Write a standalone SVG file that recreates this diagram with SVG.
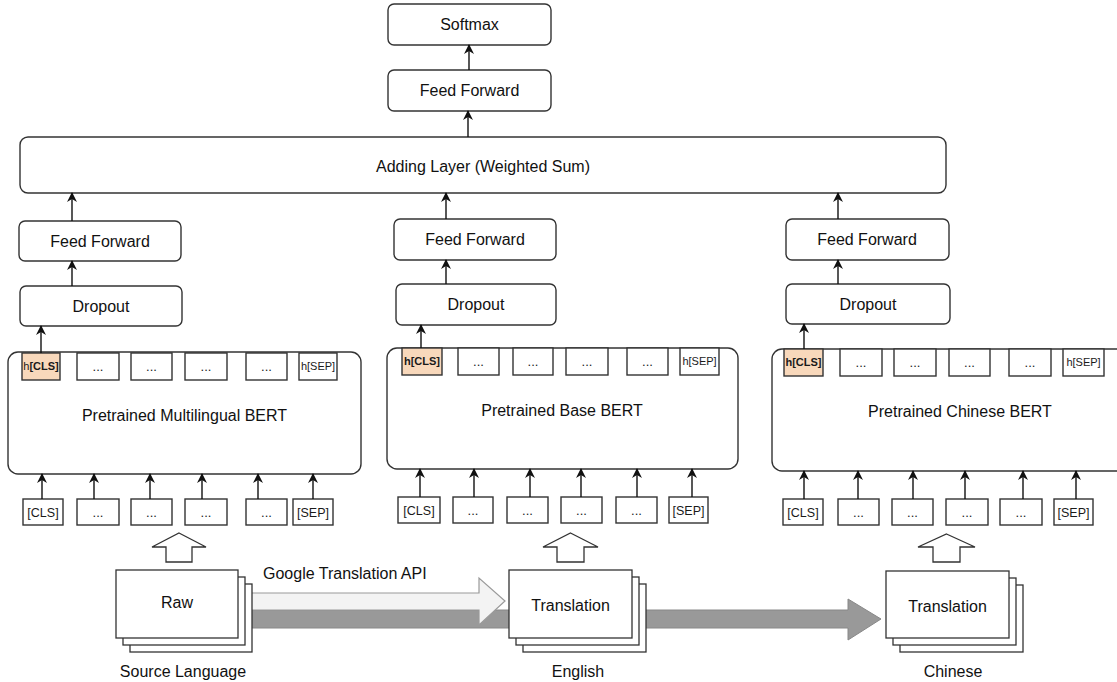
<svg xmlns="http://www.w3.org/2000/svg" width="1117" height="682" viewBox="0 0 1117 682">
<defs>
<marker id="ah" viewBox="0 0 10 10" refX="9" refY="5" markerWidth="10" markerHeight="10" markerUnits="userSpaceOnUse" orient="auto">
<path d="M0,0 L10,5 L0,10 L3,5 z" fill="#111"/>
</marker>
<style>
.box{fill:#fff;stroke:#333;stroke-width:1.4}
.tok{fill:#fff;stroke:#333;stroke-width:1.4}
.hl{fill:#f8d8bb;stroke:#333;stroke-width:1.4}
.lbl{font-family:"Liberation Sans",Arial,sans-serif;font-size:16px;fill:#111;text-anchor:middle}
.t11{font-family:"Liberation Sans",Arial,sans-serif;font-size:11px;fill:#1a1a1a;text-anchor:middle}
.t12{font-family:"Liberation Sans",Arial,sans-serif;font-size:12.5px;fill:#1a1a1a;text-anchor:middle}
.dots{font-family:"Liberation Sans",Arial,sans-serif;font-size:13px;fill:#222;text-anchor:middle}
.c{stroke:#111;stroke-width:1.4;fill:none;marker-end:url(#ah)}
.blk{fill:#fff;stroke:#333;stroke-width:1.3}
.page{fill:#fff;stroke:#333;stroke-width:1.3}
</style>
</defs>
<rect width="1117" height="682" fill="#fff"/>

<g id="softmax"><rect class="box" x="388" y="4" width="163" height="41" rx="6"/><text class="lbl" x="469.5" y="30">Softmax</text></g>
<g id="ff-top"><rect class="box" x="388" y="70" width="163" height="41" rx="6"/><text class="lbl" x="469.5" y="96">Feed Forward</text></g>
<g id="adding"><rect class="box" x="20" y="137" width="926" height="56" rx="8"/><text class="lbl" x="483" y="172">Adding Layer (Weighted Sum)</text></g>

<g id="ff-left"><rect class="box" x="19" y="221" width="162" height="40" rx="6"/><text class="lbl" x="100" y="247">Feed Forward</text></g>
<g id="drop-left"><rect class="box" x="20" y="286" width="162" height="40" rx="6"/><text class="lbl" x="101" y="312">Dropout</text></g>
<g id="ff-mid"><rect class="box" x="394" y="219" width="162" height="41" rx="6"/><text class="lbl" x="475" y="245">Feed Forward</text></g>
<g id="drop-mid"><rect class="box" x="396" y="284" width="160" height="41" rx="6"/><text class="lbl" x="476" y="310">Dropout</text></g>
<g id="ff-right"><rect class="box" x="786" y="219" width="163" height="41" rx="6"/><text class="lbl" x="867" y="245">Feed Forward</text></g>
<g id="drop-right"><rect class="box" x="786" y="284" width="164" height="40" rx="6"/><text class="lbl" x="868" y="310">Dropout</text></g>

<g id="bert-left">
<rect class="box" x="8" y="352" width="353" height="122" rx="10"/>
<text class="lbl" x="184.5" y="421">Pretrained Multilingual BERT</text>
<rect class="hl" x="22" y="353" width="38" height="27"/><text class="t11" x="41" y="370">h<tspan font-weight="bold">[CLS]</tspan></text>
<rect class="tok" x="77" y="353" width="42" height="27"/><text class="dots" x="98" y="371">...</text>
<rect class="tok" x="131" y="353" width="41" height="27"/><text class="dots" x="151.5" y="371">...</text>
<rect class="tok" x="185" y="353" width="42" height="27"/><text class="dots" x="206" y="371">...</text>
<rect class="tok" x="246" y="353" width="41" height="27"/><text class="dots" x="266.5" y="371">...</text>
<rect class="tok" x="299" y="353" width="38" height="27"/><text class="t11" x="318" y="370">h[SEP]</text>
</g>
<g id="in-left">
<rect class="tok" x="23" y="499" width="40" height="26"/><text class="t12" x="43" y="517">[CLS]</text>
<rect class="tok" x="77" y="499" width="42" height="26"/><text class="dots" x="98" y="517">...</text>
<rect class="tok" x="131" y="499" width="41" height="26"/><text class="dots" x="151.5" y="517">...</text>
<rect class="tok" x="185" y="499" width="42" height="26"/><text class="dots" x="206" y="517">...</text>
<rect class="tok" x="246" y="499" width="41" height="26"/><text class="dots" x="266.5" y="517">...</text>
<rect class="tok" x="293" y="499" width="40" height="26"/><text class="t12" x="313" y="517">[SEP]</text>
</g>

<g id="bert-mid">
<rect class="box" x="387" y="348" width="351" height="121" rx="10"/>
<text class="lbl" x="562" y="416">Pretrained Base BERT</text>
<rect class="hl" x="402" y="348" width="40" height="27"/><text class="t11" x="422" y="365" font-weight="bold">h[CLS]</text>
<rect class="tok" x="458" y="348" width="41" height="27"/><text class="dots" x="478.5" y="366">...</text>
<rect class="tok" x="513" y="348" width="40" height="27"/><text class="dots" x="533" y="366">...</text>
<rect class="tok" x="566" y="348" width="42" height="27"/><text class="dots" x="587" y="366">...</text>
<rect class="tok" x="627" y="348" width="41" height="27"/><text class="dots" x="647.5" y="366">...</text>
<rect class="tok" x="680" y="348" width="39" height="27"/><text class="t11" x="699.5" y="365">h[SEP]</text>
</g>
<g id="in-mid">
<rect class="tok" x="398" y="497" width="42" height="26"/><text class="t12" x="419" y="515">[CLS]</text>
<rect class="tok" x="453" y="497" width="40" height="26"/><text class="dots" x="473" y="515">...</text>
<rect class="tok" x="507" y="497" width="41" height="26"/><text class="dots" x="527.5" y="515">...</text>
<rect class="tok" x="561" y="497" width="41" height="26"/><text class="dots" x="581.5" y="515">...</text>
<rect class="tok" x="616" y="497" width="41" height="26"/><text class="dots" x="636.5" y="515">...</text>
<rect class="tok" x="669" y="497" width="39" height="26"/><text class="t12" x="688.5" y="515">[SEP]</text>
</g>

<g id="bert-right">
<rect class="box" x="772" y="349" width="380" height="122" rx="10"/>
<text class="lbl" x="960" y="417">Pretrained Chinese BERT</text>
<rect class="hl" x="784" y="349" width="39" height="27"/><text class="t11" x="803.5" y="366" font-weight="bold">h[CLS]</text>
<rect class="tok" x="840" y="349" width="42" height="27"/><text class="dots" x="861" y="367">...</text>
<rect class="tok" x="894" y="349" width="42" height="27"/><text class="dots" x="915" y="367">...</text>
<rect class="tok" x="949" y="349" width="41" height="27"/><text class="dots" x="969.5" y="367">...</text>
<rect class="tok" x="1009" y="349" width="42" height="27"/><text class="dots" x="1030" y="367">...</text>
<rect class="tok" x="1063" y="349" width="41" height="27"/><text class="t11" x="1083.5" y="366">h[SEP]</text>
</g>
<g id="in-right">
<rect class="tok" x="783" y="499" width="40" height="26"/><text class="t12" x="803" y="517">[CLS]</text>
<rect class="tok" x="838" y="499" width="41" height="26"/><text class="dots" x="858.5" y="517">...</text>
<rect class="tok" x="892" y="499" width="41" height="26"/><text class="dots" x="912.5" y="517">...</text>
<rect class="tok" x="946" y="499" width="42" height="26"/><text class="dots" x="967" y="517">...</text>
<rect class="tok" x="1000" y="499" width="42" height="26"/><text class="dots" x="1021" y="517">...</text>
<rect class="tok" x="1054" y="499" width="39" height="26"/><text class="t12" x="1073.5" y="517">[SEP]</text>
</g>

<g id="connectors">
<line class="c" x1="469" y1="70" x2="469" y2="45"/>
<line class="c" x1="468" y1="137" x2="468" y2="111"/>
<line class="c" x1="72" y1="221" x2="72" y2="193"/>
<line class="c" x1="72" y1="286" x2="72" y2="261"/>
<line class="c" x1="41" y1="353" x2="41" y2="326"/>
<line class="c" x1="446" y1="219" x2="446" y2="193"/>
<line class="c" x1="446" y1="284" x2="446" y2="260"/>
<line class="c" x1="421" y1="348" x2="421" y2="325"/>
<line class="c" x1="838" y1="219" x2="838" y2="193"/>
<line class="c" x1="838" y1="284" x2="838" y2="260"/>
<line class="c" x1="804" y1="349" x2="804" y2="324"/>
<line class="c" x1="42" y1="499" x2="42" y2="474"/>
<line class="c" x1="94" y1="499" x2="94" y2="474"/>
<line class="c" x1="150" y1="499" x2="150" y2="474"/>
<line class="c" x1="202" y1="499" x2="202" y2="474"/>
<line class="c" x1="258" y1="499" x2="258" y2="474"/>
<line class="c" x1="313" y1="499" x2="313" y2="474"/>
<line class="c" x1="420" y1="497" x2="420" y2="469"/>
<line class="c" x1="474" y1="497" x2="474" y2="469"/>
<line class="c" x1="530" y1="497" x2="530" y2="469"/>
<line class="c" x1="581" y1="497" x2="581" y2="469"/>
<line class="c" x1="637" y1="497" x2="637" y2="469"/>
<line class="c" x1="692" y1="497" x2="692" y2="469"/>
<line class="c" x1="804" y1="499" x2="804" y2="471"/>
<line class="c" x1="858" y1="499" x2="858" y2="471"/>
<line class="c" x1="913" y1="499" x2="913" y2="471"/>
<line class="c" x1="965" y1="499" x2="965" y2="471"/>
<line class="c" x1="1023" y1="499" x2="1023" y2="471"/>
<line class="c" x1="1076" y1="499" x2="1076" y2="471"/>
<polygon class="blk" points="179,533 206,547 192,547 192,562 166,562 166,547 152,547"/>
<polygon class="blk" points="570.5,533 598,547 584,547 584,562 557,562 557,547 543,547"/>
<polygon class="blk" points="946.5,534 975,547 960,547 960,562 933,562 933,547 918,547"/>
<polygon points="250,610 848,610 848,599 881,619 848,640 848,628 250,628" fill="#999" stroke="#888" stroke-width="1"/>
<polygon points="250,593 479,593 479,578 505,601 479,625 479,610 250,610" fill="#f3f3f3" stroke="#9a9a9a" stroke-width="1.2"/>
<text x="263" y="579" font-family="Liberation Sans, Arial, sans-serif" font-size="16" fill="#111">Google Translation API</text>
</g>

<g id="doc-raw">
<rect class="page" x="130" y="584" width="122" height="68"/>
<rect class="page" x="123" y="577" width="122" height="68"/>
<rect class="page" x="116" y="570" width="122" height="68"/>
<text class="lbl" x="177" y="608">Raw</text>
<text class="lbl" x="183" y="677">Source Language</text>
</g>
<g id="doc-english">
<rect class="page" x="523" y="584" width="123" height="68"/>
<rect class="page" x="516" y="577" width="123" height="68"/>
<rect class="page" x="509" y="570" width="123" height="68"/>
<text class="lbl" x="570.5" y="611">Translation</text>
<text class="lbl" x="578" y="677">English</text>
</g>
<g id="doc-chinese">
<rect class="page" x="900" y="585" width="123" height="67"/>
<rect class="page" x="893" y="578" width="123" height="67"/>
<rect class="page" x="886" y="571" width="123" height="67"/>
<text class="lbl" x="947.5" y="612">Translation</text>
<text class="lbl" x="953" y="677">Chinese</text>
</g>
</svg>
